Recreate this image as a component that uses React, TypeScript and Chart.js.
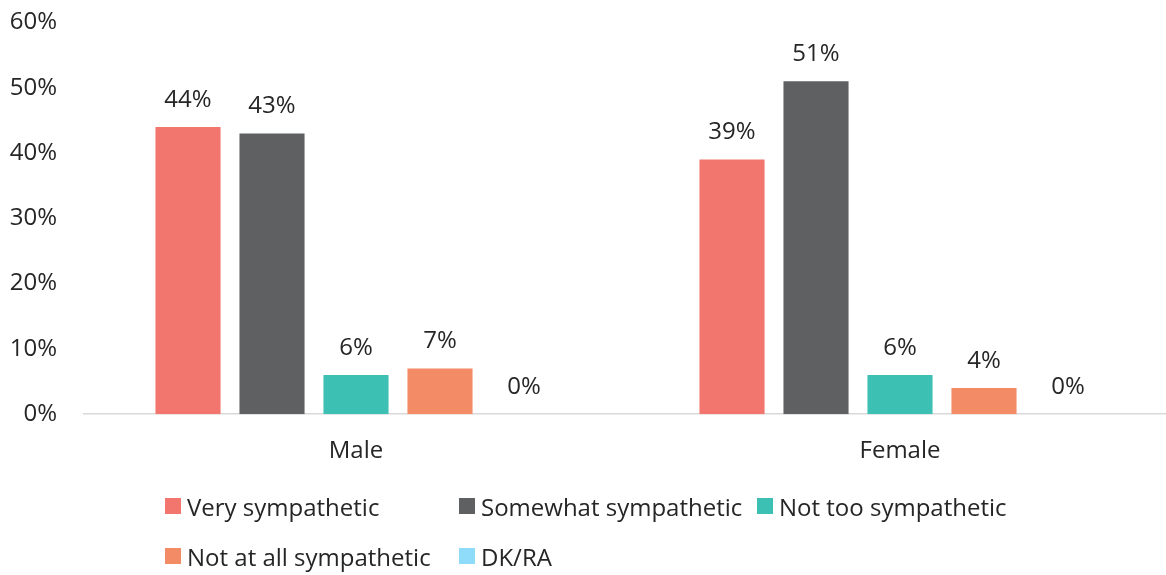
import React, { useEffect, useRef } from "react";
import { Chart, registerables } from "chart.js";

Chart.register(...registerables);

const categories = ["Male", "Female"];
const seriesLabels = [
  "Very sympathetic",
  "Somewhat sympathetic",
  "Not too sympathetic",
  "Not at all sympathetic",
  "DK/RA",
];
const verySympathetic = [44, 39];
const somewhatSympathetic = [43, 51];
const notTooSympathetic = [6, 6];
const notAtAllSympathetic = [7, 4];
const dkRa = [0, 0];
const seriesColors = ["#F2766D", "#5F6062", "#3CC0B4", "#F38B67", "#8EDCF9"];
const yTicks = [0, 10, 20, 30, 40, 50, 60];

const FONT = "'Open Sans', 'Noto Sans', sans-serif";
const TEXT = "#262626";

const labelPlugin = {
  id: "valueLabels",
  afterDatasetsDraw(chart: any) {
    const ctx = chart.ctx;
    ctx.save();
    ctx.font = `24px ${FONT}`;
    ctx.fillStyle = TEXT;
    ctx.textAlign = "center";
    ctx.textBaseline = "middle";
    chart.data.datasets.forEach((ds: any, i: number) => {
      const meta = chart.getDatasetMeta(i);
      meta.data.forEach((bar: any, j: number) => {
        ctx.fillText(ds.data[j] + "%", bar.x, bar.y - 27);
      });
    });
    ctx.restore();
  },
};

export default function App() {
  const ref = useRef<HTMLCanvasElement>(null);
  useEffect(() => {
    const allData = [verySympathetic, somewhatSympathetic, notTooSympathetic, notAtAllSympathetic, dkRa];
    const chart = new Chart(ref.current!, {
      type: "bar",
      data: {
        labels: categories,
        datasets: allData.map((d, i) => ({
          label: seriesLabels[i],
          data: d,
          backgroundColor: seriesColors[i],
          categoryPercentage: 0.772,
          barPercentage: 0.775,
        })),
      },
      options: {
        animation: false,
        responsive: false,
        maintainAspectRatio: false,
        layout: { padding: { top: 0, right: 0, left: 0, bottom: 0 } },
        plugins: { legend: { display: false }, tooltip: { enabled: false } },
        scales: {
          x: {
            grid: { display: false, drawTicks: false },
            border: { display: true, color: "#D9D9D9", width: 1.5 },
            ticks: { padding: 23, color: TEXT, font: { family: FONT, size: 24 } },
          },
          y: {
            min: 0,
            max: 60,
            afterFit: (s: any) => { s.width = 84; },
            afterBuildTicks: (s: any) => { s.ticks = yTicks.map((v) => ({ value: v })); },
            grid: { display: false, drawTicks: false },
            border: { display: false },
            ticks: {
              padding: 27,
              color: TEXT,
              font: { family: FONT, size: 24 },
              callback: (v: any) => v + "%",
            },
          },
        },
      },
      plugins: [labelPlugin],
    });
    return () => chart.destroy();
  }, []);

  const rows = [[0, 1, 2], [3, 4]];
  return (
    <div style={{ position: "absolute", left: 0, top: 0, width: 1166, height: 575, background: "#fff", overflow: "hidden" }}>
      <canvas ref={ref} width={1172} height={508} style={{ display: "block", position: "absolute", left: 0, top: -19 }} />
      <div style={{ position: "absolute", left: 165, top: 481, fontFamily: FONT, fontSize: 24, color: TEXT }}>
        {rows.map((r, ri) => (
          <div key={ri} style={{ display: "flex", height: 50, alignItems: "center" }}>
            {r.map((i) => (
              <div key={i} style={{ width: i % 3 === 1 ? 298 : 294, display: "flex", alignItems: "center" }}>
                <span style={{ width: 16, height: 16, background: seriesColors[i], marginRight: 6, display: "inline-block" }} />
                <span style={{ whiteSpace: "nowrap" }}>{seriesLabels[i]}</span>
              </div>
            ))}
          </div>
        ))}
      </div>
    </div>
  );
}
